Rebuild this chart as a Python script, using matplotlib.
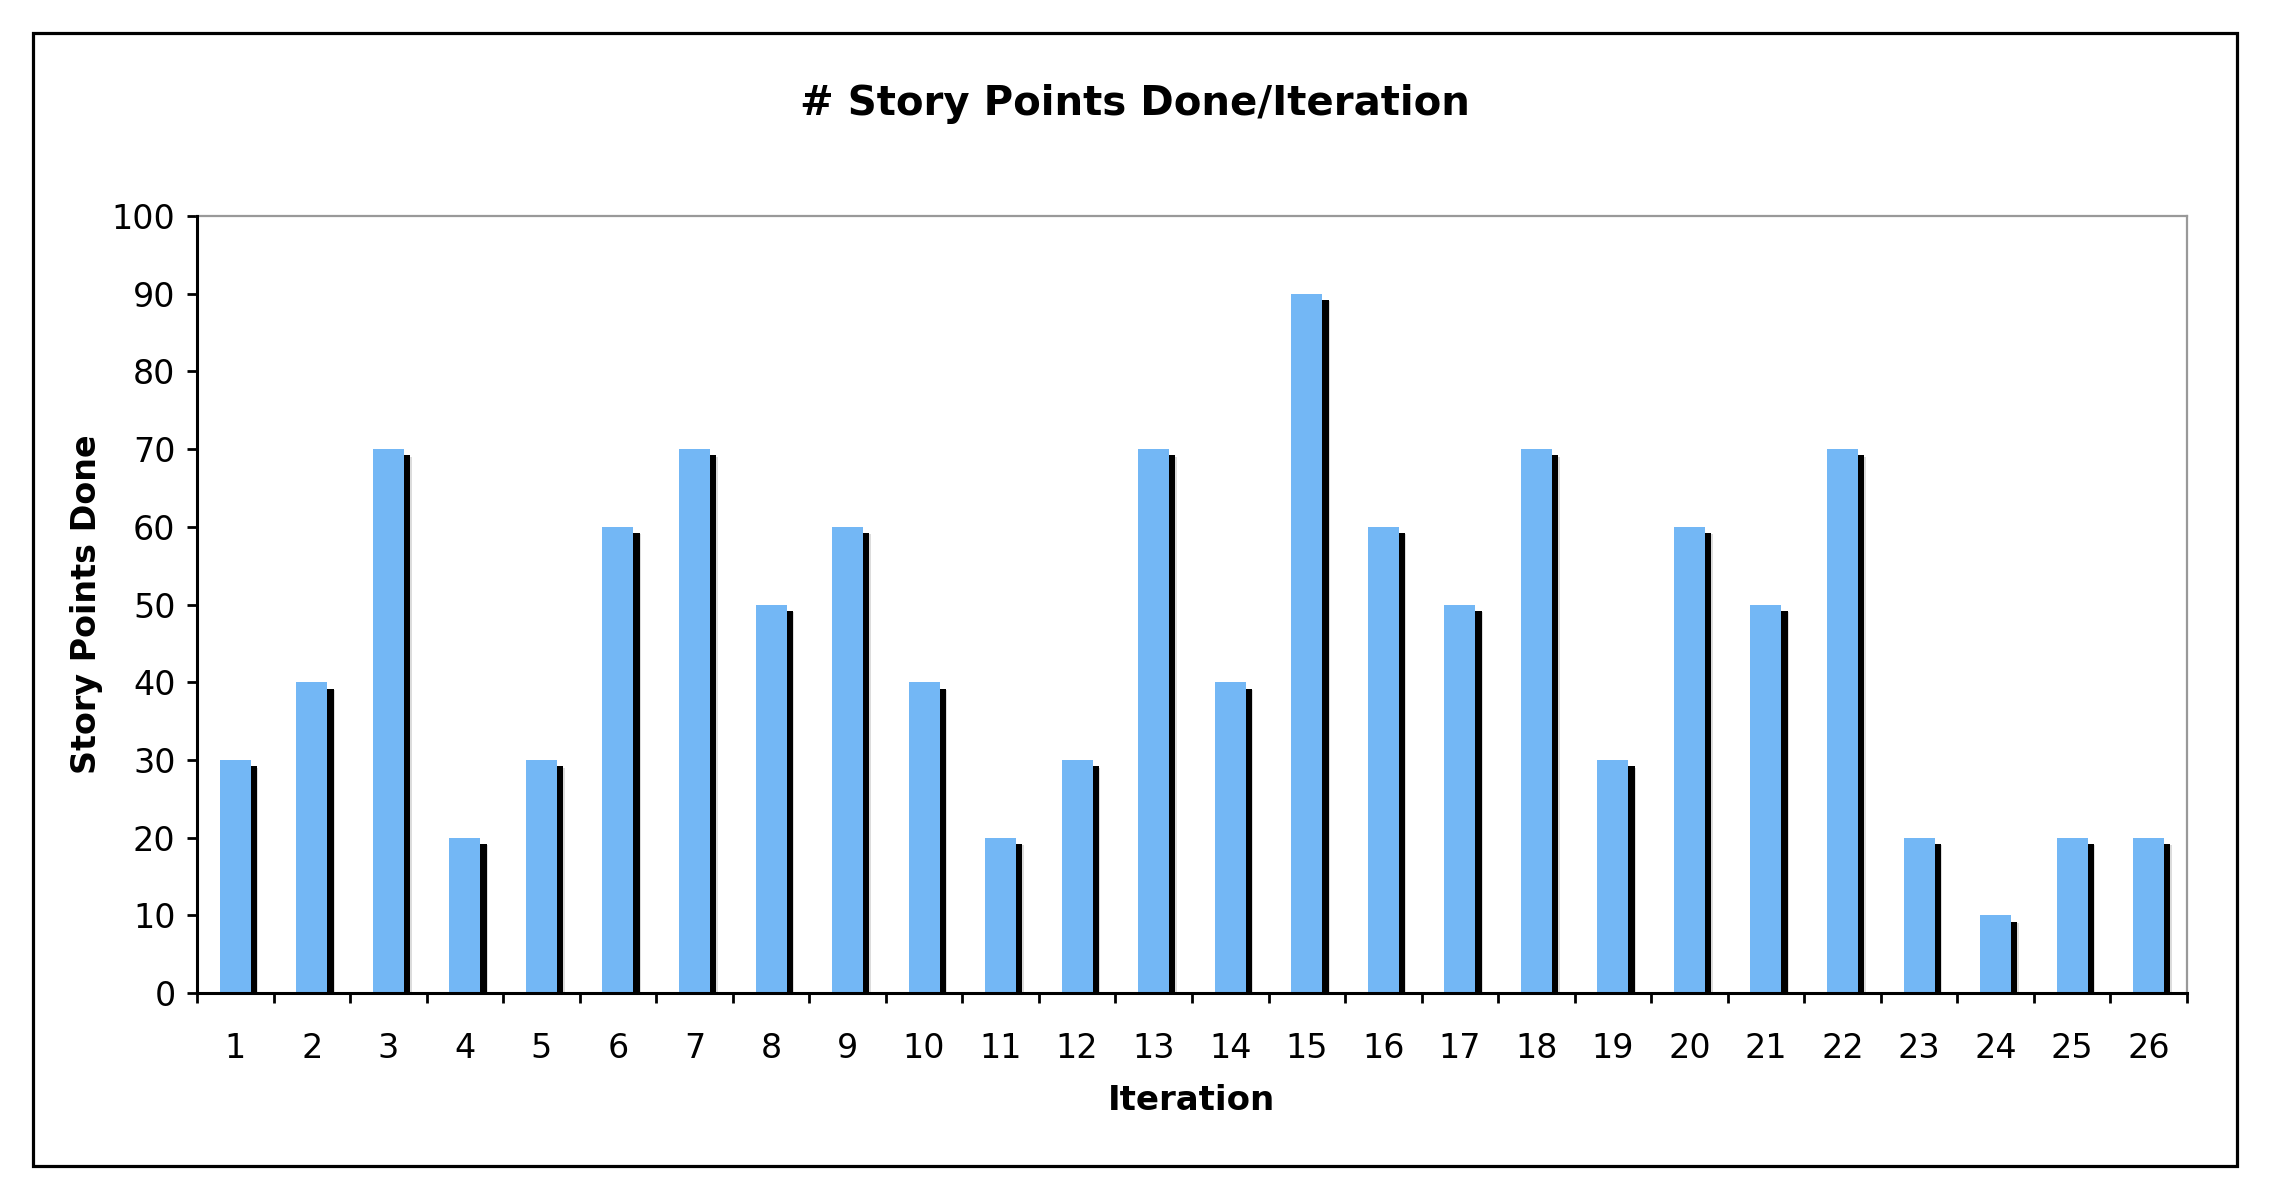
import matplotlib
matplotlib.use("Agg")
import matplotlib.pyplot as plt
import matplotlib.patheffects as pe
from matplotlib.patches import Rectangle
import numpy as np

iterations = list(range(1, 27))
points_done = [30, 40, 70, 20, 30, 60, 70, 50, 60, 40, 20, 30, 70,
               40, 90, 60, 50, 70, 30, 60, 50, 70, 20, 10, 20, 20]
y_ticks = list(range(0, 101, 10))

title = "# Story Points Done/Iteration"
xlabel = "Iteration"
ylabel = "Story Points Done"

plt.rcParams['font.family'] = ['DejaVu Sans']

fig = plt.figure(figsize=(22.7, 12), dpi=100)
fig.patch.set_facecolor('white')

# outer chart frame
fig.add_artist(Rectangle((0.0145, 0.0283), 0.971, 0.9442, transform=fig.transFigure,
                         fill=False, edgecolor='black', linewidth=2.3))

ax = fig.add_axes([0.0868, 0.1725, 0.8766, 0.6475])

x = np.arange(1, len(points_done) + 1)
bars = ax.bar(x, points_done, width=0.405, color='#73B7F5', edgecolor='none', zorder=3)
for b in bars:
    b.set_path_effects([
        pe.SimplePatchShadow(offset=(5.5, -5.5), shadow_rgbFace='#bbbbbb', alpha=0.5),
        pe.SimplePatchShadow(offset=(4.5, -4.6), shadow_rgbFace='black', alpha=1.0),
        pe.Normal(),
    ])

ax.set_xlim(0.5, len(points_done) + 0.5)
ax.set_ylim(0, 100)
ax.set_yticks(y_ticks)
ax.set_yticklabels([str(v) for v in y_ticks], fontsize=24)

# major x ticks at category boundaries, labels at category centres
ax.set_xticks(np.arange(0.5, len(points_done) + 1, 1.0))
ax.set_xticklabels([])
ax.set_xticks(x, minor=True)
ax.set_xticklabels([str(i) for i in iterations], minor=True, fontsize=24)
ax.tick_params(axis='x', which='minor', length=0, pad=28)
ax.tick_params(axis='x', which='major', direction='out', length=7.5, width=2)
ax.tick_params(axis='y', which='major', direction='out', length=7.5, width=2, pad=8)

for s in ['left', 'bottom']:
    ax.spines[s].set_color('black')
    ax.spines[s].set_linewidth(2.2)
    ax.spines[s].set_zorder(5)
for s in ['top', 'right']:
    ax.spines[s].set_color('#999999')
    ax.spines[s].set_linewidth(1.6)

ax.set_xlabel(xlabel, fontsize=24.5, fontweight='bold', labelpad=14)
ax.set_ylabel(ylabel, fontsize=24, fontweight='bold', labelpad=6)
fig.text(0.5, 0.913, title, ha='center', va='center', fontsize=29, fontweight='bold')

fig.savefig('out.png', dpi=100, facecolor='white')
